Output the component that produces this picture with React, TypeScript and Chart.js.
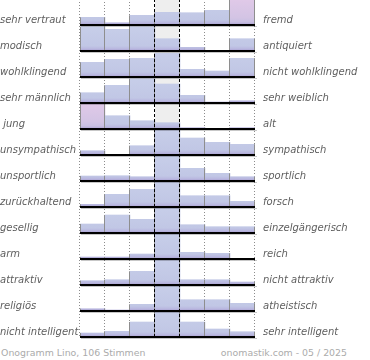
import { useEffect, useRef } from 'react';
import { Chart, registerables } from 'chart.js';

Chart.register(...registerables);

const leftLabels = [
  'sehr vertraut', 'modisch', 'wohlklingend', 'sehr männlich', ' jung', 'unsympathisch',
  'unsportlich', 'zurückhaltend', 'gesellig', 'arm', 'attraktiv', 'religiös', 'nicht intelligent',
];
const rightLabels = [
  'fremd', 'antiquiert', 'nicht wohlklingend', 'sehr weiblich', 'alt', 'sympathisch',
  'sportlich', 'forsch', 'einzelgängerisch', 'reich', 'nicht attraktiv', 'atheistisch', 'sehr intelligent',
];
const columns = ['1', '2', '3', '4', '5', '6', '7'];

// bar heights per item (26 = one full row); values above 25 are shown clipped
const vertraut = [7.7, 2.3, 9.7, 12.7, 12.3, 14.7, 27];
const modisch = [24.3, 21.7, 24.3, 12.3, 3.7, 0, 12.3];
const wohlklingend = [14.7, 17.7, 18.7, 23.7, 7.7, 6, 18.7];
const maennlich = [10.3, 17.7, 24.3, 19, 7.7, 1, 2.3];
const jung = [28, 13.3, 8.3, 6.3, 1.3, 0, 1.3];
const unsympathisch = [4.3, 0, 9.3, 30, 17, 12.7, 10.7];
const unsportlich = [5, 5.3, 4.3, 30, 12.7, 7.7, 4.3];
const zurueckhaltend = [2.7, 12.7, 17.7, 30, 11.3, 11.3, 5.7];
const gesellig = [9, 18, 13.7, 30, 8.3, 6.3, 6.3];
const arm = [2, 2, 5, 30, 6.7, 5.7, 0];
const attraktiv = [4.3, 5.3, 13.7, 30, 5.3, 5.3, 3];
const religioes = [2.3, 1, 6.7, 30, 11.3, 11.3, 7.7];
const intelligent = [4, 5.7, 15, 30, 15, 8, 5.3];

const rows = [
  vertraut, modisch, wohlklingend, maennlich, jung, unsympathisch, unsportlich,
  zurueckhaltend, gesellig, arm, attraktiv, religioes, intelligent,
];

const ROW = 26;
const CAP = 25;
const MID = 3;
const base = (i: number) => (rows.length - 1 - i) * ROW;
const shown = (v: number) => Math.min(v, CAP);

const deco = {
  id: 'deco',
  beforeDatasetsDraw(chart: any) {
    const { ctx, chartArea: a } = chart;
    const colW = (a.right - a.left) / columns.length;
    ctx.save();
    ctx.fillStyle = '#eeeeee';
    ctx.fillRect(a.left + MID * colW, a.top, colW, a.bottom - a.top);
    ctx.strokeStyle = '#8c8c8c';
    ctx.lineWidth = 1;
    ctx.setLineDash([1, 2]);
    for (let k = 0; k <= columns.length; k++) {
      if (k === MID || k === MID + 1) continue;
      const x = Math.round(a.left + k * colW) - 0.5;
      ctx.beginPath();
      ctx.moveTo(x, a.top);
      ctx.lineTo(x, a.bottom);
      ctx.stroke();
    }
    ctx.restore();
  },
  afterDatasetsDraw(chart: any) {
    const { ctx, chartArea: a, scales } = chart;
    const y = scales.y;
    const colW = (a.right - a.left) / columns.length;
    ctx.save();
    // bar edges
    ctx.strokeStyle = '#8e8e8e';
    ctx.lineWidth = 1;
    rows.forEach((vals, i) => {
      const yb = y.getPixelForValue(base(i));
      for (let k = 0; k <= columns.length; k++) {
        const hl = k > 0 ? shown(vals[k - 1]) : 0;
        const hr = k < columns.length ? shown(vals[k]) : 0;
        const h = Math.max(hl, hr);
        if (h <= 0) continue;
        const bx = Math.round(a.left + k * colW);
        const x = k === 0 ? bx + 0.5 : bx - 0.5;
        ctx.beginPath();
        ctx.moveTo(x, yb);
        ctx.lineTo(x, y.getPixelForValue(base(i) + h));
        ctx.stroke();
      }
    });
    // dashed middle lines
    ctx.strokeStyle = '#000000';
    ctx.setLineDash([3, 2]);
    for (const k of [MID, MID + 1]) {
      const x = Math.round(a.left + k * colW) - 0.5;
      ctx.beginPath();
      ctx.moveTo(x, a.top);
      ctx.lineTo(x, a.bottom);
      ctx.stroke();
    }
    ctx.setLineDash([]);
    // baselines
    rows.forEach((_, i) => {
      const yb = Math.round(y.getPixelForValue(base(i)));
      ctx.fillStyle = 'rgba(0,0,0,0.22)';
      ctx.fillRect(a.left + 1, yb + 1, a.right - a.left + 1, 1);
      ctx.fillStyle = '#000000';
      ctx.fillRect(a.left, yb - 1, a.right - a.left, 2);
    });
    ctx.restore();
  },
};

function barColor(c: any) {
  const chart = c.chart;
  const i = c.datasetIndex;
  const j = c.dataIndex;
  const v = rows[i]?.[j] ?? 0;
  const pink = v > CAP && j !== MID;
  const y = chart.scales?.y;
  if (!chart.chartArea || !y) return pink ? '#dcc6e6' : '#c3cae6';
  const b = y.getPixelForValue(base(i));
  const t = y.getPixelForValue(base(i) + CAP);
  const g = chart.ctx.createLinearGradient(0, t, 0, b);
  if (pink) {
    g.addColorStop(0, '#e0c9e8');
    g.addColorStop(0.7, '#d3c4e4');
    g.addColorStop(0.88, '#c9c0e2');
    g.addColorStop(1, '#ab9fd2');
  } else {
    g.addColorStop(0, '#c7cee9');
    g.addColorStop(0.8, '#c1c7e5');
    g.addColorStop(0.9, '#bab9e0');
    g.addColorStop(1, '#a99ed1');
  }
  return g;
}

const fitSide = (w: number) => (s: any) => {
  s.width = w;
  s.paddingTop = 0;
  s.paddingBottom = 0;
  s.paddingLeft = 0;
  s.paddingRight = 0;
};

export default function App() {
  const ref = useRef<HTMLCanvasElement | null>(null);
  useEffect(() => {
    if (!ref.current) return;
    const labelFont = { family: 'DejaVu Sans', size: 10, style: 'italic' as const };
    const chart = new Chart(ref.current, {
      type: 'bar',
      data: {
        labels: columns,
        datasets: rows.map((vals, i) => ({
          label: leftLabels[i],
          data: vals.map((v) => [base(i), base(i) + shown(v)]),
          backgroundColor: barColor,
          borderWidth: 0,
          grouped: false,
          barPercentage: 1,
          categoryPercentage: 1,
        })),
      } as any,
      options: {
        animation: false,
        responsive: false,
        layout: { padding: { top: 0, bottom: 2, left: 0, right: 0 } },
        plugins: { legend: { display: false }, tooltip: { enabled: false } },
        scales: {
          x: { type: 'category', display: false, offset: true },
          y: { type: 'linear', display: false, min: 0, max: rows.length * ROW },
          yL: {
            type: 'category',
            labels: leftLabels,
            position: 'left',
            offset: true,
            grid: { display: false, drawTicks: false },
            border: { display: false },
            ticks: { crossAlign: 'far', labelOffset: 8, padding: 0, autoSkip: false, font: labelFont, color: '#5e5e5e' },
            afterFit: fitSide(80),
          },
          yR: {
            type: 'category',
            labels: rightLabels,
            position: 'right',
            offset: true,
            grid: { display: false, drawTicks: false },
            border: { display: false },
            ticks: { labelOffset: 8, padding: 8, autoSkip: false, font: labelFont, color: '#5e5e5e' },
            afterFit: fitSide(115),
          },
        },
      } as any,
      plugins: [deco],
    });
    return () => chart.destroy();
  }, []);

  const foot = {
    position: 'absolute' as const,
    top: '348px',
    fontFamily: 'DejaVu Sans',
    fontSize: '9.4px',
    lineHeight: '10px',
    color: '#ababab',
    whiteSpace: 'nowrap' as const,
  };

  return (
    <div style={{ position: 'absolute', left: 0, top: 0, width: 370, height: 360, background: '#ffffff' }}>
      <div style={{ position: 'absolute', left: 0, top: -1, width: 370, height: 340 }}>
        <canvas ref={ref} width={370} height={340} />
      </div>
      <div style={{ ...foot, left: '1px' }}>Onogramm Lino, 106 Stimmen</div>
      <div style={{ ...foot, right: '23px' }}>onomastik.com - 05 / 2025</div>
    </div>
  );
}
